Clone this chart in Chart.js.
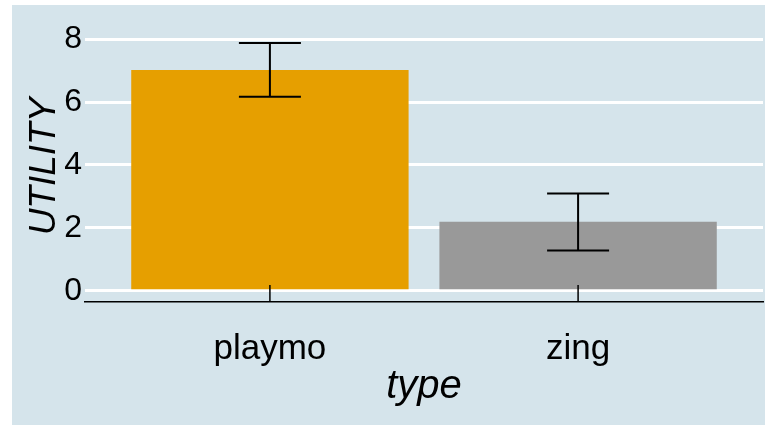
<!DOCTYPE html>
<html>
<head>
<meta charset="utf-8">
<script src="https://cdn.jsdelivr.net/npm/chart.js@4"></script>
<style>
  html, body { margin: 0; padding: 0; background: #ffffff; }
  #panel { position: absolute; left: 12px; top: 5px; width: 753px; height: 420px; background: #d5e4eb; }
</style>
</head>
<body>
<div id="panel"><canvas id="c"></canvas></div>
<script>
// data
const CATEGORIES = ['playmo', 'zing'];
const MEANS = [7.02, 2.19];
const ERR_LOW = [6.17, 1.28];
const ERR_HIGH = [7.88, 3.09];
const Y_TICKS = [0, 2, 4, 6, 8];
const BAR_COLORS = ['#e69f00', '#999999'];

const FONT = "'Liberation Sans', Arial, sans-serif";

// error bars + inward axis ticks, drawn over the bars
const errorBars = {
  id: 'errorBars',
  afterDatasetsDraw(chart) {
    const {ctx, scales: {x, y}, chartArea} = chart;
    ctx.save();
    ctx.strokeStyle = '#000';
    CATEGORIES.forEach((c, i) => {
      const px = x.getPixelForValue(i + 1);
      const lo = y.getPixelForValue(ERR_LOW[i]);
      const hi = y.getPixelForValue(ERR_HIGH[i]);
      const half = 31;
      ctx.lineWidth = 2;
      ctx.beginPath();
      ctx.moveTo(px, lo); ctx.lineTo(px, hi);
      ctx.moveTo(px - half, lo); ctx.lineTo(px + half, lo);
      ctx.moveTo(px - half, hi); ctx.lineTo(px + half, hi);
      ctx.stroke();
      // tick mark on the x axis, pointing up
      ctx.lineWidth = 1.5;
      ctx.beginPath();
      ctx.moveTo(px, chartArea.bottom - 17);
      ctx.lineTo(px, chartArea.bottom);
      ctx.stroke();
    });
    ctx.restore();
  }
};

new Chart(document.getElementById('c'), {
  type: 'bar',
  data: {
    datasets: [{
      data: CATEGORIES.map((c, i) => ({x: i + 1, y: MEANS[i]})),
      backgroundColor: BAR_COLORS,
      borderWidth: 0,
      categoryPercentage: 1,
      barPercentage: 0.9,
    }]
  },
  options: {
    responsive: true,
    maintainAspectRatio: false,
    animation: false,
    layout: {padding: {top: 26, right: 2, bottom: 0, left: 0}},
    plugins: {legend: {display: false}, tooltip: {enabled: false}},
    scales: {
      x: {
        type: 'linear',
        offset: false,
        min: 0.4, max: 2.6,
        afterBuildTicks: s => { s.ticks = CATEGORIES.map((c, i) => ({value: i + 1})); },
        afterFit: s => { s.height = 123; },
        grid: {display: false, offset: false},
        border: {display: true, color: '#000', width: 1.5},
        ticks: {
          padding: 18,
          color: '#000',
          font: {family: FONT, size: 35},
          callback: v => CATEGORIES[v - 1]
        },
        title: {
          display: true, text: 'type', color: '#000',
          font: {family: FONT, size: 40, style: 'italic'},
          padding: {top: 0, bottom: 14}
        }
      },
      y: {
        type: 'linear',
        min: -0.36, max: 8.26,
        afterBuildTicks: s => { s.ticks = Y_TICKS.map(v => ({value: v})); },
        afterFit: s => { s.width = 73; },
        grid: {color: '#ffffff', lineWidth: 3, drawTicks: false},
        border: {display: false},
        ticks: {
          padding: 3,
          color: '#000',
          font: {family: FONT, size: 32}
        },
        title: {
          display: true, text: 'UTILITY', color: '#000',
          font: {family: FONT, size: 37, style: 'italic'},
          padding: {top: 11, bottom: 0}
        }
      }
    }
  },
  plugins: [errorBars]
});
</script>
</body>
</html>
